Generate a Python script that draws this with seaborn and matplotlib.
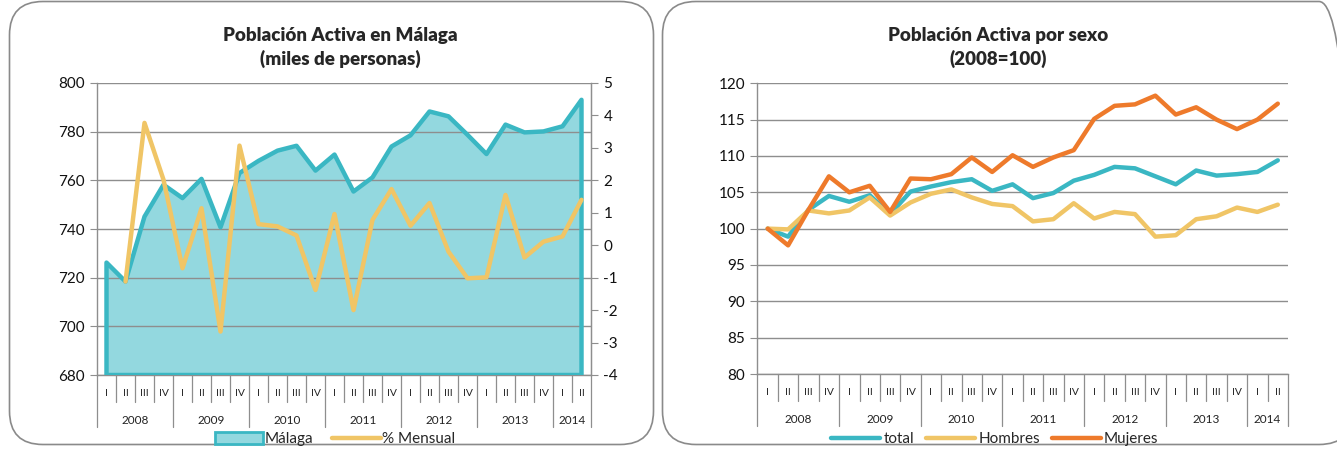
import numpy as np
import pandas as pd
import seaborn as sns
import matplotlib.pyplot as plt
from matplotlib.patches import FancyBboxPatch, Patch
from matplotlib.lines import Line2D

sns.set_style("white")
plt.rcParams['font.family'] = ['Lato', 'DejaVu Sans']
plt.rcParams['axes.unicode_minus'] = False

# datos trimestrales 2008 T1 - 2014 T2
years = ['2008', '2009', '2010', '2011', '2012', '2013', '2014']
quarters = ['I', 'II', 'III', 'IV'] * 6 + ['I', 'II']

malaga = [726.2, 718.4, 745.1, 758.2, 752.7, 760.6, 740.7, 763.0, 768.0, 772.2,
          774.2, 764.0, 770.6, 755.4, 761.2, 773.9, 778.5, 788.3, 786.3, 778.7,
          770.8, 782.9, 779.7, 780.1, 782.2, 793.1]
mensual = [np.nan, -1.12, 3.77, 2.02, -0.71, 1.14, -2.66, 3.07, 0.65, 0.58,
           0.30, -1.38, 0.96, -2.0, 0.78, 1.73, 0.60, 1.30, -0.2, -1.02,
           -0.99, 1.55, -0.38, 0.11, 0.27, 1.40]

total = [100.0, 98.9, 102.6, 104.5, 103.7, 104.6, 102.0, 105.1, 105.8, 106.4,
         106.8, 105.2, 106.1, 104.2, 104.9, 106.6, 107.4, 108.5, 108.3, 107.2,
         106.1, 108.0, 107.3, 107.5, 107.8, 109.4]
hombres = [100.0, 99.9, 102.5, 102.1, 102.5, 104.3, 101.8, 103.6, 104.8, 105.4,
           104.3, 103.4, 103.1, 101.0, 101.3, 103.5, 101.4, 102.3, 102.0, 98.9,
           99.1, 101.3, 101.7, 102.9, 102.3, 103.3]
mujeres = [100.0, 97.7, 102.6, 107.2, 105.0, 105.9, 102.3, 106.9, 106.8, 107.5,
           109.8, 107.8, 110.1, 108.5, 109.8, 110.8, 115.1, 116.9, 117.1, 118.3,
           115.7, 116.7, 115.0, 113.7, 115.0, 117.2]

TEAL = '#3AB7C3'
FILL = '#93D8DF'
YELLOW = '#F0C566'
ORANGE = '#EE7A2B'
GRID = '#8E8E8E'

n = len(quarters)
x = np.arange(n)
df1 = pd.DataFrame({'x': x, 'malaga': malaga, 'mensual': mensual})
df2 = pd.DataFrame({'x': x, 'total': total, 'Hombres': hombres, 'Mujeres': mujeres})

fig = plt.figure(figsize=(13.37, 4.55), dpi=100)

# marcos redondeados
for x0, w in [(9.5, 644), (662.5, 690)]:
    box = FancyBboxPatch((x0 / 1337, 10.5 / 455), w / 1337, 443 / 455,
                         boxstyle="round,pad=0,rounding_size=0.025",
                         transform=fig.transFigure, facecolor='none',
                         edgecolor='#8A8A8A', linewidth=1.2, mutation_aspect=1337 / 455)
    fig.patches.append(box)


def category_axis(ax):
    ax.set_xlim(-0.5, n - 0.5)
    ax.set_xticks([])
    tr = ax.get_xaxis_transform()
    starts = [0, 4, 8, 12, 16, 20, 24]
    for i in range(n + 1):
        low = -0.178 if (i in starts or i == n) else -0.092
        ax.plot([i - 0.5, i - 0.5], [0, low], transform=tr, color=GRID,
                lw=0.9, clip_on=False)
    for i, q in enumerate(quarters):
        ax.text(i, -0.065, q, transform=tr, ha='center', va='center',
                fontsize=7.5, color='#222222')
    for k, yr in enumerate(years):
        end = min(starts[k] + 4, n)
        ax.text((starts[k] + end - 1) / 2, -0.157, yr, transform=tr,
                ha='center', va='center', fontsize=8.5, color='#222222')


def style_axis(ax):
    for s in ['top']:
        ax.spines[s].set_visible(False)
    for s in ['left', 'bottom', 'right']:
        ax.spines[s].set_color(GRID)
        ax.spines[s].set_linewidth(1)
    ax.grid(axis='y', color=GRID, linewidth=1)
    ax.tick_params(axis='y', length=5, color=GRID, labelsize=11,
                   labelcolor='#111111', pad=4, direction='out', left=True)
    ax.set_xlabel('')
    ax.set_ylabel('')


# --- panel izquierdo ---
ax1 = fig.add_axes([97 / 1337, 1 - 375 / 455, 494 / 1337, 292 / 455])
ax1.fill_between(df1['x'], df1['malaga'], 680, facecolor=FILL, edgecolor='none', zorder=1)
ax1.fill_between(df1['x'], df1['malaga'], 680, facecolor='none', edgecolor=TEAL,
                 linewidth=3.2, zorder=3)
ax1.set_ylim(680, 800)
ax1.set_yticks(range(680, 801, 20))
style_axis(ax1)
ax1.set_axisbelow(False)
category_axis(ax1)

ax1b = ax1.twinx()
sns.lineplot(data=df1, x='x', y='mensual', ax=ax1b, color=YELLOW, lw=3.2)
ax1b.set_ylim(-4, 5)
ax1b.set_yticks(range(-4, 6))
ax1b.set_xlim(-0.5, n - 0.5)
for s in ['top', 'left', 'bottom']:
    ax1b.spines[s].set_visible(False)
ax1b.spines['right'].set_color(GRID)
ax1b.tick_params(axis='y', length=5, color=GRID, labelsize=11,
                 labelcolor='#111111', pad=4, right=True)
ax1b.set_xlabel('')
ax1b.set_ylabel('')

fig.text(340 / 1337, 1 - 35 / 455, 'Población Activa en Málaga', ha='center',
         va='center', fontsize=13.5, fontweight='heavy')
fig.text(340 / 1337, 1 - 59 / 455, '(miles de personas)', ha='center',
         va='center', fontsize=13.5, fontweight='heavy')

h1 = [Patch(facecolor=FILL, edgecolor=TEAL, linewidth=2),
      Line2D([], [], color=YELLOW, lw=3.2)]
fig.legend(h1, ['Málaga', '% Mensual'], loc='center', ncol=2,
           bbox_to_anchor=(335 / 1337, 1 - 439 / 455), frameon=False,
           fontsize=11, handlelength=3.2, handleheight=0.9, columnspacing=1.2,
           handletextpad=0.1)

# --- panel derecho ---
ax2 = fig.add_axes([757.5 / 1337, 1 - 374 / 455, 530.5 / 1337, 290.7 / 455])
long_df = df2.melt(id_vars='x', var_name='serie', value_name='valor')
sns.lineplot(data=long_df, x='x', y='valor', hue='serie',
             palette={'total': TEAL, 'Hombres': YELLOW, 'Mujeres': ORANGE},
             hue_order=['total', 'Hombres', 'Mujeres'], lw=3.2, ax=ax2,
             legend=False)
ax2.set_ylim(80, 120)
ax2.set_yticks(range(80, 121, 5))
style_axis(ax2)
ax2.spines['right'].set_visible(False)
ax2.set_axisbelow(True)
category_axis(ax2)

fig.text(998 / 1337, 1 - 35 / 455, 'Población Activa por sexo', ha='center',
         va='center', fontsize=13.5, fontweight='heavy')
fig.text(998 / 1337, 1 - 59 / 455, '(2008=100)', ha='center',
         va='center', fontsize=13.5, fontweight='heavy')

h2 = [Line2D([], [], color=c, lw=3.2) for c in (TEAL, YELLOW, ORANGE)]
fig.legend(h2, ['total', 'Hombres', 'Mujeres'], loc='center', ncol=3,
           bbox_to_anchor=(995 / 1337, 1 - 439 / 455), frameon=False,
           fontsize=11, handlelength=3.2, columnspacing=0.8, handletextpad=0.2)

fig.savefig('out.png', dpi=100)
